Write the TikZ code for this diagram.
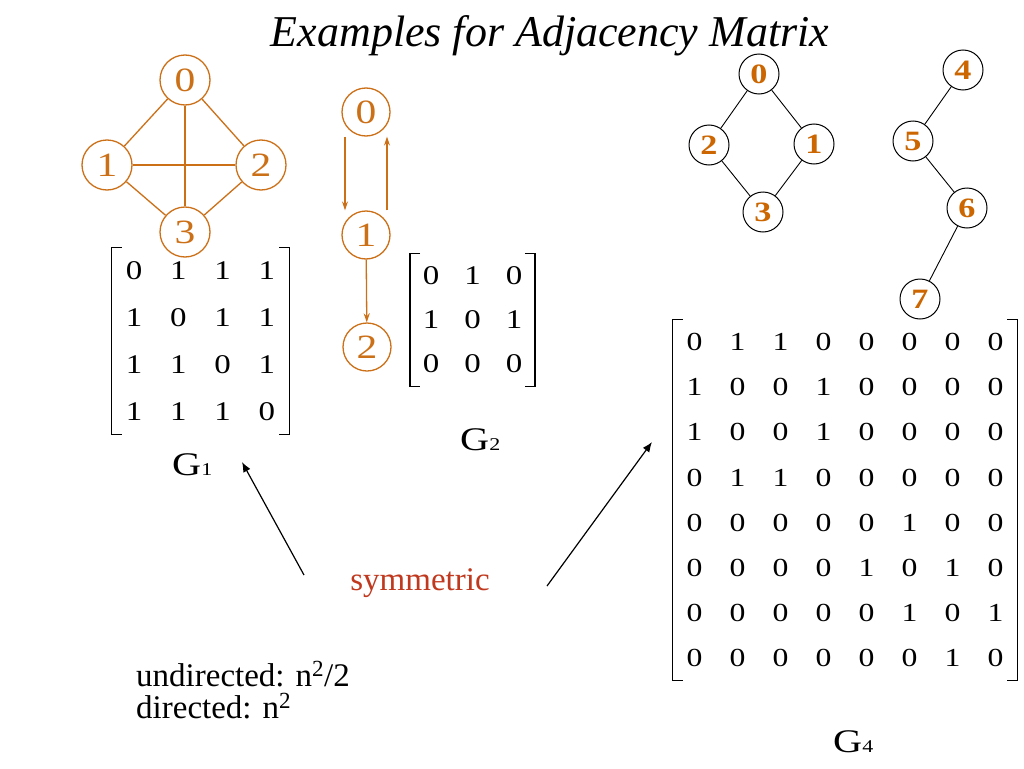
\documentclass[tikz,border=0pt]{standalone}
\usepackage{fontspec}
\setmainfont{Liberation Serif}
\newfontfamily\widefont[FakeStretch=1.22]{Liberation Serif}
\usetikzlibrary{matrix,arrows.meta}
\definecolor{gorange}{RGB}{204,112,24}
\definecolor{gbold}{RGB}{204,102,0}
\definecolor{symred}{RGB}{192,57,30}
\newcommand\mybrk[1]{%
  \draw[brk] ([xshift=10pt]#1.north west) -- (#1.north west) -- (#1.south west) -- ([xshift=10pt]#1.south west);
  \draw[brk] ([xshift=-10pt]#1.north east) -- (#1.north east) -- (#1.south east) -- ([xshift=-10pt]#1.south east);}
\begin{document}
\begin{tikzpicture}[x=1pt,y=-1pt,
  vtx/.style={circle,draw=gorange,line width=1.3pt,minimum size=50pt,inner sep=0pt,text=gorange,font=\widefont\fontsize{34}{34}\selectfont},
  vtxs/.style={vtx,minimum size=48pt},
  vtxb/.style={circle,draw=black,line width=1pt,minimum size=40pt,inner sep=0pt,text=gbold,font=\widefont\fontsize{28}{28}\selectfont\bfseries},
  oedge/.style={draw=gorange,line width=1.3pt},
  oarr/.style={draw=gorange,line width=1.3pt,-{Stealth[length=9pt,width=6pt]}},
  bedge/.style={draw=black,line width=0.9pt},
  blkarr/.style={draw=black,line width=1.2pt,-{Latex[length=10pt,width=8pt]}},
  brk/.style={draw=black,line width=1.3pt},
  cellA/.style={minimum width=44.3pt,minimum height=46.7pt,inner sep=0pt,font=\widefont\fontsize{27}{27}\selectfont},
  cellB/.style={minimum width=41.5pt,minimum height=44pt,inner sep=0pt,font=\widefont\fontsize{27}{27}\selectfont},
  cellC/.style={minimum width=43pt,minimum height=45pt,inner sep=0pt,font=\widefont\fontsize{26}{26}\selectfont},
  txt/.style={anchor=base west,inner sep=0pt,font=\fontsize{33}{33}\selectfont},
  glab/.style={anchor=base west,inner sep=0pt,font=\widefont\fontsize{33}{33}\selectfont}
]
\fill[white] (0,0) rectangle (1024,768);
\useasboundingbox (0,0) rectangle (1024,768);

% title
\node[anchor=base,inner sep=0pt,font=\fontsize{44}{44}\selectfont\itshape] (title) at (550,47) {Examples for Adjacency Matrix};

% G1
\node[vtx] (a0) at (185,80) {0};
\node[vtx] (a1) at (107,165) {1};
\node[vtx] (a2) at (261,165) {2};
\node[vtx] (a3) at (185,232) {3};
\draw[oedge] (a0) -- (a1);
\draw[oedge] (a0) -- (a2);
\draw[oedge] (a0) -- (a3);
\draw[oedge] (a1) -- (a2);
\draw[oedge] (a1) -- (a3);
\draw[oedge] (a2) -- (a3);

\matrix (m1) [matrix of nodes,nodes={cellA},inner sep=0pt,column sep=0pt,row sep=0pt] at (200.5,341) {
0 & 1 & 1 & 1\\
1 & 0 & 1 & 1\\
1 & 1 & 0 & 1\\
1 & 1 & 1 & 0\\
};
\mybrk{m1}
\node[glab] (l1) at (172,475) {G{\fontsize{18}{18}\selectfont 1}};

% G2
\node[vtxs] (b0) at (366,112) {0};
\node[vtxs] (b1) at (366,235) {1};
\node[vtxs] (b2) at (367,347) {2};
\draw[oarr] ([xshift=-21pt]b0.south) -- ([xshift=-21pt]b1.north);
\draw[oarr] ([xshift=21pt]b1.north) -- ([xshift=21pt]b0.south);
\draw[oarr] (b1) -- (b2);

\matrix (m2) [matrix of nodes,nodes={cellB},inner sep=0pt,column sep=0pt,row sep=0pt] at (472.5,320) {
0 & 1 & 0\\
1 & 0 & 1\\
0 & 0 & 0\\
};
\mybrk{m2}
\node[glab] (l2) at (460,450) {G{\fontsize{18}{18}\selectfont 2}};

% G4
\node[vtxb] (c0) at (759,74) {0};
\node[vtxb] (c2) at (709,145) {2};
\node[vtxb] (c1) at (814,144) {1};
\node[vtxb] (c3) at (763,212) {3};
\node[vtxb] (c4) at (963,70) {4};
\node[vtxb] (c5) at (913,141) {5};
\node[vtxb] (c6) at (967,208) {6};
\node[vtxb] (c7) at (920,299) {7};
\draw[bedge] (c0) -- (c2);
\draw[bedge] (c0) -- (c1);
\draw[bedge] (c2) -- (c3);
\draw[bedge] (c1) -- (c3);
\draw[bedge] (c4) -- (c5);
\draw[bedge] (c5) -- (c6);
\draw[bedge] (c6) -- (c7);

\matrix (m4) [matrix of nodes,nodes={cellC},inner sep=0pt,column sep=0pt,row sep=0pt] at (845,500) {
0 & 1 & 1 & 0 & 0 & 0 & 0 & 0\\
1 & 0 & 0 & 1 & 0 & 0 & 0 & 0\\
1 & 0 & 0 & 1 & 0 & 0 & 0 & 0\\
0 & 1 & 1 & 0 & 0 & 0 & 0 & 0\\
0 & 0 & 0 & 0 & 0 & 1 & 0 & 0\\
0 & 0 & 0 & 0 & 1 & 0 & 1 & 0\\
0 & 0 & 0 & 0 & 0 & 1 & 0 & 1\\
0 & 0 & 0 & 0 & 0 & 0 & 1 & 0\\
};
\mybrk{m4}
\node[glab] (l4) at (833,752) {G{\fontsize{18}{18}\selectfont 4}};

% symmetric and arrows
\node[anchor=base,inner sep=0pt,text=symred,font=\fontsize{33}{33}\selectfont] (sym) at (420,590) {symmetric};
\coordinate (t1) at (304,575);
\coordinate (h1) at (242,462);
\coordinate (t2) at (547,586);
\coordinate (h2) at (652,442);
\draw[blkarr] (t1) -- (h1);
\draw[blkarr] (t2) -- (h2);

% sizes
\node[txt] (ud) at (136,686) {undirected: n\textsuperscript{2}/2};
\node[txt] (dd) at (136,718) {directed: n\textsuperscript{2}};
\end{tikzpicture}
\end{document}
